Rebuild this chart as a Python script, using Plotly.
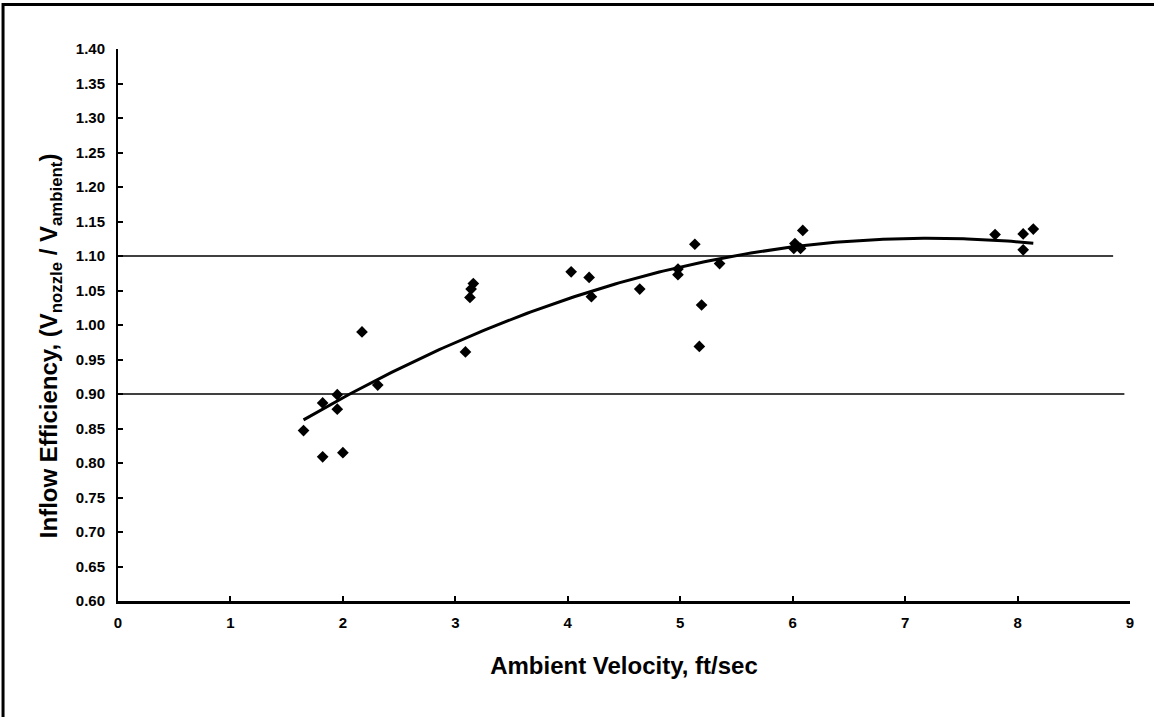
import numpy as np
import plotly.graph_objects as go

# Measured data (ambient velocity ft/sec, inflow efficiency)
velocity = [1.65, 1.82, 1.82, 1.95, 1.95, 2.00, 2.17, 2.31,
            3.09, 3.13, 3.14, 3.16, 4.03, 4.19, 4.21, 4.64,
            4.98, 4.98, 5.13, 5.17, 5.19, 5.35,
            6.01, 6.02, 6.07, 6.09, 7.80, 8.05, 8.05, 8.14]
efficiency = [0.847, 0.887, 0.809, 0.899, 0.878, 0.815, 0.990, 0.913,
              0.961, 1.040, 1.052, 1.060, 1.077, 1.069, 1.041, 1.052,
              1.081, 1.073, 1.117, 0.969, 1.029, 1.089,
              1.111, 1.118, 1.111, 1.137, 1.131, 1.132, 1.109, 1.139]

# Reference (limit) lines
ref_levels = [1.10, 0.90]
ref_x_end = [8.85, 8.95]

x_ticks = [0, 1, 2, 3, 4, 5, 6, 7, 8, 9]
y_ticks = [0.60, 0.65, 0.70, 0.75, 0.80, 0.85, 0.90, 0.95, 1.00,
           1.05, 1.10, 1.15, 1.20, 1.25, 1.30, 1.35, 1.40]

# 2nd-order polynomial trendline fitted to the data
coef = np.polyfit(velocity, efficiency, 2)
xt = np.linspace(min(velocity), max(velocity), 200)
yt = np.polyval(coef, xt)

fig = go.Figure()

for lvl, xe in zip(ref_levels, ref_x_end):
    fig.add_trace(go.Scatter(x=[0, xe], y=[lvl, lvl], mode="lines",
                             line=dict(color="black", width=1.5),
                             hoverinfo="skip", showlegend=False))

fig.add_trace(go.Scatter(x=velocity, y=efficiency, mode="markers",
                         marker=dict(symbol="diamond", size=9, color="black",
                                     line=dict(width=0)),
                         showlegend=False))

fig.add_trace(go.Scatter(x=xt, y=yt, mode="lines",
                         line=dict(color="black", width=3),
                         showlegend=False))

FAM = "Liberation Sans, Arial, sans-serif"
tickfont = dict(family=FAM, size=15, color="black")

fig.update_layout(
    width=1154, height=717,
    margin=dict(l=118, r=24, t=49, b=116, pad=0),
    paper_bgcolor="white", plot_bgcolor="white",
    font=dict(family=FAM, color="black"),
    xaxis=dict(range=[0, 9], tickvals=x_ticks, ticktext=[f"<b>{v}</b>" for v in x_ticks],
               showgrid=False, zeroline=False, showline=True, linecolor="black",
               linewidth=3, ticks="inside", ticklen=5, tickwidth=1.5, tickcolor="black",
               tickfont=tickfont, ticklabelstandoff=6,
               title=dict(text="<b>Ambient Velocity, ft/sec</b>",
                          font=dict(size=24, family=FAM),
                          standoff=28)),
    yaxis=dict(range=[0.6, 1.4], tickvals=y_ticks,
               ticktext=[f"<b>{v:.2f}</b>" for v in y_ticks],
               showgrid=False, zeroline=False, showline=True, linecolor="black",
               linewidth=2, ticks="inside", ticklen=5, tickwidth=1.5, tickcolor="black",
               tickfont=tickfont, ticklabelstandoff=8),
    annotations=[dict(text="<b>Inflow Efficiency, (V<sub>nozzle</sub> / V<sub>ambient</sub>)</b>",
                      xref="paper", yref="paper", x=-0.066, y=0.462,
                      xanchor="center", yanchor="middle", textangle=-90,
                      showarrow=False, font=dict(size=24, family=FAM, color="black"))],
    shapes=[dict(type="rect", xref="paper", yref="paper",
                 x0=-0.1136, x1=1.2, y0=-0.5, y1=1.0806,
                 line=dict(color="black", width=3), layer="above")],
)

fig.write_html("out.html")
